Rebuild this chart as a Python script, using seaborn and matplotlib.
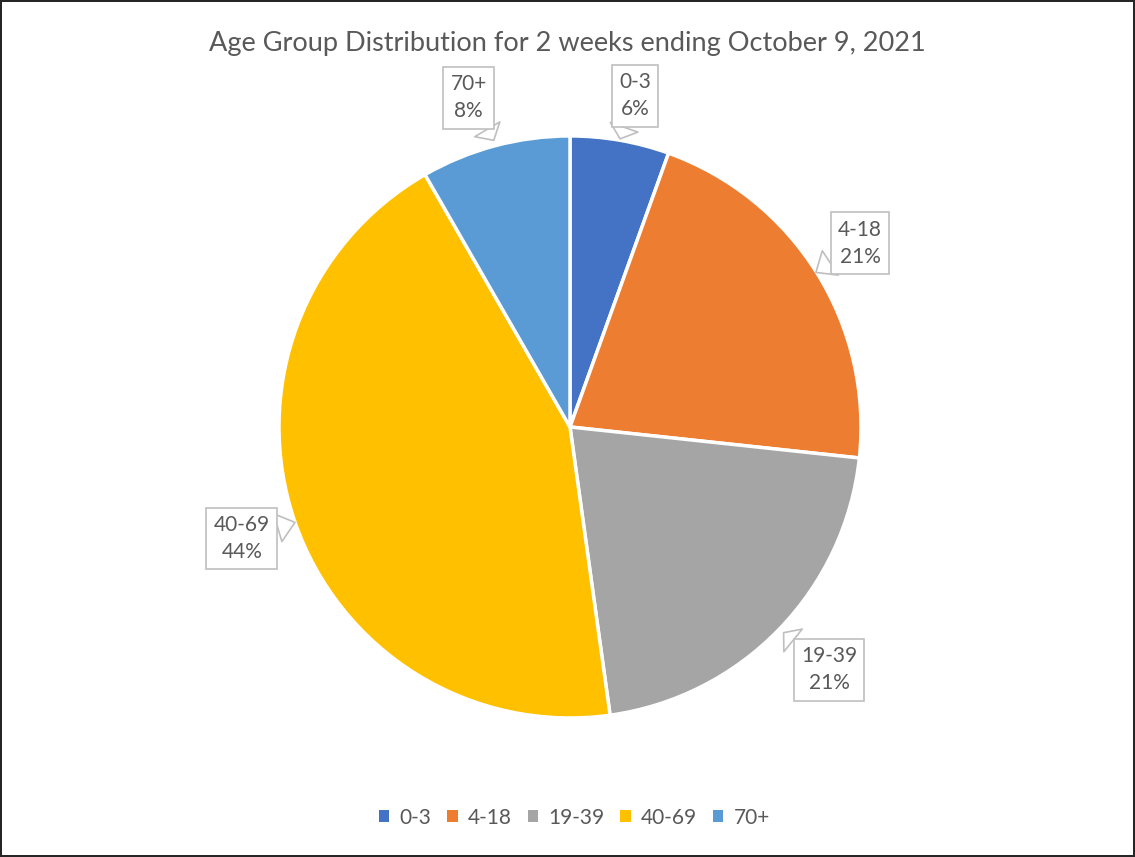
import matplotlib
matplotlib.use("Agg")
import matplotlib.pyplot as plt
import seaborn as sns
from matplotlib.patches import Patch

sns.set_theme(style="white")
plt.rcParams['font.family'] = ['Lato', 'DejaVu Sans']

# data
age_groups = ['0-3', '4-18', '19-39', '40-69', '70+']
shares = [5.5, 21.2, 21.1, 43.9, 8.3]
pct_labels = ['6%', '21%', '21%', '44%', '8%']
colors = ['#4472C4', '#ED7D31', '#A5A5A5', '#FFC000', '#5B9BD5']

# callout placement (box centre, pointer tip) in axes data units
label_pos = [(0.224, 1.138), (0.997, 0.631), (0.890, -0.834), (-1.128, -0.383), (-0.348, 1.131)]
tip_pos = [(0.172, 0.990), (0.845, 0.531), (0.734, -0.707), (-0.945, -0.328), (-0.262, 0.985)]

text_col = '#595959'

fig = plt.figure(figsize=(11.35, 8.57), dpi=100, edgecolor='#262626', linewidth=1.5)
ax = fig.add_axes([0.2458, 0.1622, 0.5128, 0.6792])

wedges, _ = ax.pie(shares, colors=colors, startangle=90, counterclock=False,
                   wedgeprops=dict(edgecolor='white', linewidth=2.5))
ax.set_xlim(-1, 1)
ax.set_ylim(-1, 1)
ax.set_aspect('equal')
ax.axis('off')

for grp, pct, (bx, by), (tx, ty) in zip(age_groups, pct_labels, label_pos, tip_pos):
    ax.annotate(f'{grp}\n{pct}', xy=(tx, ty), xytext=(bx, by),
                ha='center', va='center', fontsize=15, color=text_col,
                linespacing=1.45, annotation_clip=False,
                bbox=dict(boxstyle='square,pad=0.35', fc='white', ec='#BFBFBF', lw=1.2),
                arrowprops=dict(arrowstyle='wedge,tail_width=1.4,shrink_factor=0.5',
                                fc='white', ec='#BFBFBF', lw=1.2,
                                shrinkA=0, shrinkB=0))

fig.suptitle('Age Group Distribution for 2 weeks ending October 9, 2021',
             y=0.964, fontsize=19.5, color=text_col)

handles = [Patch(facecolor=c, edgecolor='none') for c in colors]
fig.legend(handles, age_groups, loc='center', bbox_to_anchor=(0.506, 0.046),
           ncol=5, frameon=False, fontsize=15, handlelength=0.5, handleheight=0.5,
           handletextpad=0.5, columnspacing=0.75, labelcolor=text_col)

fig.savefig('out.png', dpi=100)
